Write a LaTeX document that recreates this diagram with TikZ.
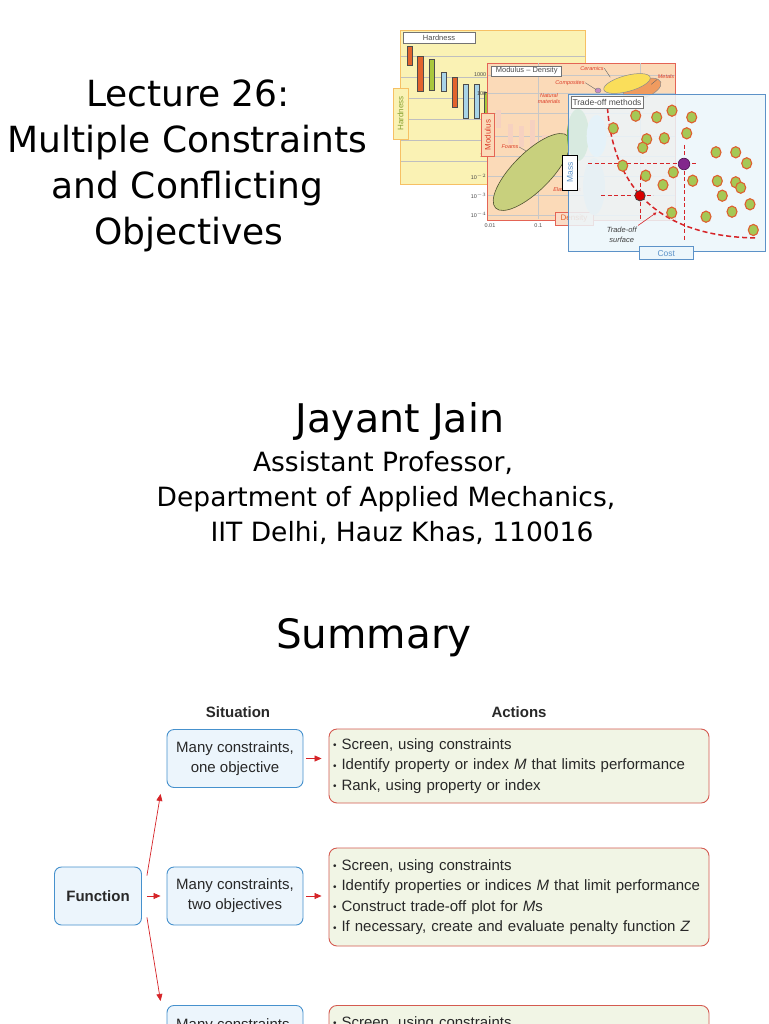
\documentclass[tikz,border=0pt]{standalone}
\usepackage{fontspec}
\setmainfont{Liberation Sans}
\newfontfamily\handfont{DejaVu Sans}
\usetikzlibrary{arrows.meta, positioning, calc}
\definecolor{ink}{RGB}{40, 40, 40}
\definecolor{sitline}{RGB}{70, 145, 205}
\definecolor{sitfill}{RGB}{236, 245, 252}
\definecolor{actline}{RGB}{212, 90, 80}
\definecolor{actfill}{RGB}{241, 245, 229}
\definecolor{arrred}{RGB}{214, 36, 40}
\definecolor{hardfill}{RGB}{250, 242, 180}
\definecolor{hardline}{RGB}{246, 192, 100}
\definecolor{modfill}{RGB}{251, 218, 184}
\definecolor{modline}{RGB}{228, 100, 85}
\definecolor{tofill}{RGB}{236, 246, 251}
\definecolor{toline}{RGB}{92, 146, 200}
\definecolor{dotgreen}{RGB}{165, 200, 85}
\definecolor{dotrim}{RGB}{222, 96, 48}
\definecolor{barorange}{RGB}{226, 100, 45}
\definecolor{bargreen}{RGB}{170, 200, 60}
\definecolor{barblue}{RGB}{168, 212, 232}
\definecolor{foamgreen}{RGB}{200, 208, 125}
\definecolor{natgreen}{RGB}{105, 170, 70}
\definecolor{ceryellow}{RGB}{250, 222, 90}
\definecolor{metorange}{RGB}{240, 155, 95}
\definecolor{labred}{RGB}{220, 60, 40}
\definecolor{optpurple}{RGB}{130, 40, 140}

\newcommand{\bul}{\raisebox{0.5pt}{\fontsize{10}{10}\selectfont\textbullet}\ }

\begin{document}
\begin{tikzpicture}[x=1pt, y=-1pt,
    hand/.style={font=\handfont\fontsize{36}{46}\selectfont, anchor=base, inner sep=0pt},
    handbig/.style={hand, font=\handfont\fontsize{39.5}{46}\selectfont},
    handmid/.style={hand, font=\handfont\fontsize{26.5}{34}\selectfont},
    handhuge/.style={hand, font=\handfont\fontsize{40.5}{50}\selectfont},
    head/.style={font=\bfseries\fontsize{15}{18}\selectfont, text=ink},
    sitbox/.style={draw=sitline, fill=sitfill, line width=0.9pt, rounded corners=7pt,
      minimum width=136pt, minimum height=58pt, align=center, text=ink,
      font=\fontsize{15}{20}\selectfont},
    actbox/.style={draw=actline, fill=actfill, line width=0.9pt, rounded corners=8pt,
      text width=372pt, inner xsep=4pt, align=left, text=ink,
      font=\fontsize{15}{20.5}\selectfont},
    arr/.style={-{Triangle[length=7pt, width=6pt]}, draw=arrred, line width=0.7pt},
    chartlab/.style={draw=black!55, fill=white, inner sep=0.5pt, line width=0.5pt,
      font=\fontsize{7.5}{8}\selectfont, text=black!70},
    axnum/.style={font=\fontsize{5.5}{6}\selectfont, text=black!70, inner sep=0.5pt},
    matl/.style={font=\itshape\fontsize{5.5}{6.5}\selectfont, text=labred, inner sep=0.5pt, align=center},
    pointdot/.style={draw=dotrim, fill=dotgreen, line width=1.1pt},
    guide/.style={draw=arrred, line width=1pt, dash pattern=on 4pt off 2.5pt},
    tradeline/.style={draw=arrred, line width=1.5pt, dash pattern=on 5pt off 3pt},
  ]
  \fill[white] (0,0) rectangle (768,1024);
  \useasboundingbox (0,0) rectangle (768,1024);
  \clip (0,0) rectangle (768,1024);

  % title and author
  \node[hand] (lect1) at (188,106.7) {Lecture 26:};
  \node[hand] (lect2) at (187.5,152.7) {Multiple Constraints};
  \node[hand] (lect3) at (187.5,198.3) {and Conflicting};
  \node[hand] (lect4) at (189,244.3) {Objectives};

  \node[handbig] (who) at (400,432) {Jayant Jain};
  \node[handmid] (post) at (383,471) {Assistant Professor,};
  \node[handmid] (dept) at (386,506) {Department of Applied Mechanics,};
  \node[handmid] (inst) at (402,541) {IIT Delhi, Hauz Khas, 110016};

  \node[handhuge] (summ) at (374,648) {Summary};

  % hardness chart
  \draw[draw=hardline, fill=hardfill, line width=0.9pt] (400.5,30.5) rectangle (585,184);
  \foreach \gy in {56,77,98,119,140,161}
    \draw[black!25, line width=0.4pt] (401,\gy) -- (584.5,\gy);
  \foreach \xa/\ya/\xb/\yb/\bc in {407.5/46.5/412.5/65.5/barorange, 417.5/56.5/423/91/barorange,
      429.5/59.5/434.5/90/bargreen, 441/72.5/446/91/barblue, 452.5/77.5/457.5/107.5/barorange,
      463/84.5/468/118.5/barblue, 474/84.5/479/118.5/barblue, 484/92/488/118.5/bargreen}
    \draw[black!70, fill=\bc, line width=0.4pt] (\xa,\ya) rectangle (\xb,\yb);
  \node[chartlab, minimum width=72pt, minimum height=10.5pt] (hardtop) at (439,38) {Hardness};
  \node[chartlab, rotate=90, draw=hardline, fill=hardfill, text=bargreen!80!black,
    minimum width=51pt, minimum height=15pt, font=\fontsize{8}{9}\selectfont] (hardside) at (400.5,113.5) {Hardness};

  % modulus-density chart
  \draw[draw=modline, fill=modfill, line width=0.8pt] (487,63) rectangle (675,220);
  \foreach \gy in {75,93.5,113,136.5,156.5,176.5,195.5,215}
    \draw[black!22, line width=0.4pt] (487.5,\gy) -- (674.5,\gy);
  \foreach \gx in {538.3,640}
    \draw[black!22, line width=0.4pt] (\gx,63.5) -- (\gx,219.5);
  \foreach \xa/\ya/\xb/\yb in {496/110/501/128.5, 507.5/124/512.5/144, 518.5/126.5/523.5/147.5,
      529.5/120/534.5/148.5, 541.5/135/546.5/157, 551.5/140/556.5/160}
    \fill[barorange!30] (\xa,\ya) rectangle (\xb,\yb);
  \draw[fill=foamgreen, draw=black!60!foamgreen, line width=0.6pt, rotate around={45:(531.7,172)}]
    (531.7,172) ellipse (51 and 19);
  \draw[fill=metorange, draw=black!45, line width=0.5pt, rotate around={20:(642,89)}] (642,89) ellipse (20 and 9);
  \draw[fill=ceryellow, draw=black!45, line width=0.5pt, rotate around={15:(627,83.5)}] (627,83.5) ellipse (24 and 8);
  \draw[fill=violet!45, draw=black!50, line width=0.4pt] (598,90.5) ellipse (3 and 2.5);

  \node[matl] (foams) at (510,147) {Foams};
  \node[matl] (natmat) at (549,98.5) {Natural\\materials};
  \node[matl] (compo) at (570,82.7) {Composites};
  \node[matl] (ceram) at (592,68.3) {Ceramics};
  \node[matl] (metal) at (666,76.7) {Metals};
  \node[matl] (elast) at (567,190) {Elastomers};
  \draw[black!60, line width=0.4pt] (foams.east) -- ++(7,4);
  \draw[black!60, line width=0.4pt] (compo.east) -- ++(11,7);
  \draw[black!60, line width=0.4pt] (ceram.east) -- ++(6,9);
  \draw[black!60, line width=0.4pt] (metal.south west) -- ++(-6,5);

  \node[axnum, anchor=east] (t1000) at (487,75) {1000};
  \node[axnum, anchor=east] (t100) at (487,93.5) {100};
  \node[axnum, anchor=east] (t10) at (487,155.5) {10};
  \node[axnum, anchor=east] (tm2) at (487,176.5) {10$^{-2}$};
  \node[axnum, anchor=east] (tm3) at (487,195.5) {10$^{-3}$};
  \node[axnum, anchor=east] (tm4) at (487,215) {10$^{-4}$};
  \node[axnum] (x001) at (490,225.5) {0.01};
  \node[axnum] (x01) at (538.3,225.5) {0.1};

  \node[chartlab, minimum width=70pt, minimum height=10pt] (modtop) at (526.7,71) {Modulus – Density};
  \node[chartlab, rotate=90, draw=modline, fill=modfill, text=labred,
    minimum width=43pt, minimum height=13pt, font=\fontsize{8}{9}\selectfont] (modside) at (487.7,135) {Modulus};
  \node[chartlab, draw=modline, fill=metorange!35, text=barorange,
    minimum width=38pt, minimum height=13pt, font=\fontsize{8}{9}\selectfont] (dens) at (574,218.3) {Density};

  \fill[natgreen] (578,135) ellipse (11 and 26);
  \fill[barblue!70] (596.7,136) ellipse (10 and 21);
  \fill[black!18] (594,186.5) ellipse (11 and 28.5);

  % trade-off chart
  \fill[tofill, fill opacity=0.85] (568,94.5) rectangle (765,251.5);
  \draw[toline, line width=0.8pt] (568,94.5) rectangle (765,251.5);
  \draw[guide] (588,164) -- (698,164);
  \draw[guide] (684,145) -- (684,241.5);
  \draw[guide] (601,195.7) -- (653,195.7);
  \draw[guide] (640,176.5) -- (640,221.5);
  \draw[tradeline] (607,100) .. controls (611,190) and (660,236) .. (755,238);
  \foreach \px/\py in {635.7/115.7, 656.7/117.3, 672/110.7, 691.7/117.3, 613.3/128.3, 646.7/139.3,
      664.3/138.3, 686.7/133.3, 642.7/147.7, 622.7/165.7, 645.7/175.7, 673.3/172.3, 663/185,
      692.7/180.7, 716/152.3, 735.7/152.3, 746.7/163.3, 717.3/181, 735.7/182.3, 740.7/187.7,
      722.3/195.7, 750/204.3, 732/211.7, 706/216.7, 671.7/212.7, 753.3/230}
    \draw[pointdot] (\px,\py) ellipse (5 and 5.6);
  \draw[draw=optpurple!60!black, fill=optpurple, line width=0.6pt] (684,164) circle (5.8);
  \draw[draw=black!75, fill=red!85!black, line width=0.8pt] (640,195.7) circle (5.2);

  \node[chartlab, minimum width=72pt, minimum height=11.5pt, font=\fontsize{8.5}{9}\selectfont] (tomethod) at (607,102.5) {Trade-off methods};
  \node[chartlab, rotate=90, draw=black, line width=0.9pt, text=toline,
    minimum width=35pt, minimum height=14.5pt, font=\fontsize{8.5}{9}\selectfont] (mass) at (570,172.5) {Mass};
  \node[chartlab, draw=toline, fill=tofill, text=toline, line width=0.8pt,
    minimum width=54pt, minimum height=13pt, font=\fontsize{8.5}{9}\selectfont] (cost) at (666.3,253.3) {Cost};
  \node[font=\itshape\fontsize{7.5}{10.5}\selectfont, text=black!75, align=center, inner sep=0.5pt] (tosurf) at (621.7,234.7) {Trade-off\\surface};
  \coordinate (onfront) at (656.5,212.5);
  \draw[-{Triangle[length=3pt, width=3pt]}, draw=arrred, line width=0.6pt, shorten <=1pt] (tosurf.north east) -- (onfront);

  % summary diagram
  \node[head] (sitn) at (238,712) {Situation};
  \node[head] (actn) at (519,712) {Actions};

  \node[sitbox] (sit1) at (235,758.5) {Many constraints,\\one objective};
  \node[actbox, minimum height=74pt] (act1) at (519,766) {\bul Screen, using constraints\\
    \bul Identify property or index \textit{M} that limits performance\\
    \bul Rank, using property or index};

  \node[sitbox, minimum width=87pt, font=\bfseries\fontsize{15}{20}\selectfont] (func) at (98,896) {Function};
  \node[sitbox] (sit2) at (235,896) {Many constraints,\\two objectives};
  \node[actbox, minimum height=98pt] (act2) at (519,897) {\bul Screen, using constraints\\
    \bul Identify properties or indices \textit{M} that limit performance\\
    \bul Construct trade-off plot for \textit{M}s\\
    \bul If necessary, create and evaluate penalty function \textit{Z}};

  \node[sitbox, anchor=north] (sit3) at (235,1005) {Many constraints,\\\mbox{}};
  \node[actbox, minimum height=74pt, anchor=north] (act3) at (519,1005) {\bul Screen, using constraints\\\mbox{}\\\mbox{}};

  \draw[arr, shorten <=3pt, shorten >=7pt] (sit1.east) -- (sit1.east -| act1.west);
  \draw[arr, shorten <=5pt, shorten >=6pt] (func.east) -- (sit2.west);
  \draw[arr, shorten <=3pt, shorten >=7pt] (sit2.east) -- (sit2.east -| act2.west);
  \draw[arr] ($(func.north east)+(5,9)$) -- ($(sit1.south west)+(-6,6)$);
  \draw[arr] ($(func.south east)+(5,-8)$) -- ($(sit3.north west)+(-6,-4)$);
\end{tikzpicture}
\end{document}
